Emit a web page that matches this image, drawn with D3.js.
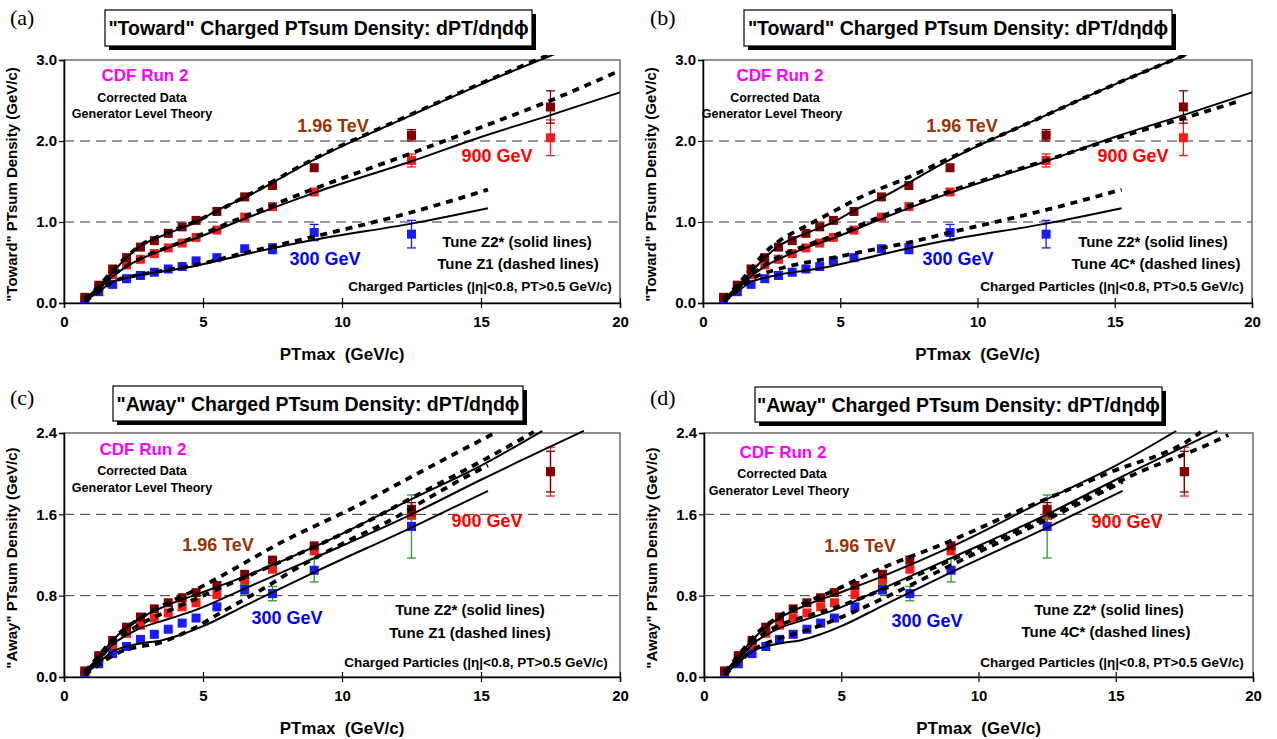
<!DOCTYPE html>
<html><head><meta charset="utf-8">
<script src="https://cdn.jsdelivr.net/npm/d3@7/dist/d3.min.js"></script>
<style>
body{margin:0;background:#fff;}
text{font-family:"Liberation Sans",Arial,sans-serif;font-weight:bold;}
</style></head>
<body><svg id="c" width="1277" height="739"></svg>
<script>
// ---------- DATA ----------
const xBins = [0.75,1.25,1.75,2.25,2.75,3.25,3.75,4.25,4.75,5.5,6.5,7.5,9,12.5,17.5];
const xBins300 = xBins.slice(0,14);

// "Toward" region data
const toward196 = [0.07,0.22,0.42,0.56,0.69,0.77,0.86,0.94,1.02,1.13,1.31,1.45,1.67,2.07,2.42];
const toward196Err = [0.01,0.01,0.01,0.01,0.01,0.01,0.01,0.01,0.02,0.02,0.02,0.03,0.03,0.07,0.20];
const toward900 = [0.05,0.19,0.35,0.47,0.54,0.61,0.68,0.74,0.81,0.90,1.06,1.19,1.37,1.76,2.04];
const toward900Err = [0.01,0.01,0.01,0.01,0.01,0.01,0.01,0.01,0.02,0.02,0.02,0.03,0.03,0.08,0.22];
const toward300 = [0.02,0.14,0.23,0.30,0.34,0.38,0.42,0.45,0.52,0.56,0.67,0.67,0.87,0.85];
const toward300Err = [0.01,0.01,0.01,0.01,0.01,0.01,0.01,0.02,0.02,0.02,0.03,0.06,0.10,0.17];

// "Away" region data
const away196 = [0.06,0.21,0.36,0.49,0.59,0.67,0.73,0.78,0.83,0.90,1.01,1.15,1.29,1.65,2.02];
const away196Err = [0.01,0.01,0.01,0.01,0.01,0.01,0.01,0.01,0.01,0.02,0.02,0.02,0.03,0.065,0.20];
const away900 = [0.05,0.18,0.31,0.43,0.51,0.58,0.63,0.69,0.73,0.81,0.94,1.06,1.24,1.59,2.02];
const away900Err = [0.01,0.01,0.01,0.01,0.01,0.01,0.01,0.01,0.01,0.02,0.02,0.02,0.03,0.07,0.24];
const away300 = [0.02,0.13,0.23,0.30,0.37,0.42,0.47,0.53,0.58,0.69,0.86,0.82,1.05,1.48];
const away300Err = [0.01,0.01,0.01,0.01,0.01,0.01,0.01,0.01,0.02,0.02,0.045,0.07,0.115,0.31];

// Theory curves [PTmax, density]
const towardZ2_196 = [[0.75,0.05],[1.25,0.2],[1.75,0.38],[2.25,0.56],[2.75,0.7],[3.75,0.86],[4.75,1.0],[5.5,1.14],[6.5,1.3],[9,1.77],[12.5,2.32],[15,2.7],[17.7,3.08]];
const towardZ2_900 = [[0.75,0.04],[1.25,0.17],[1.75,0.33],[2.25,0.45],[2.75,0.54],[3.75,0.68],[4.75,0.8],[6.5,1.04],[9,1.36],[12.5,1.75],[15,2.05],[17.5,2.32],[20,2.6]];
const towardZ2_300 = [[0.75,0.02],[1.25,0.14],[1.75,0.26],[2.25,0.31],[2.75,0.35],[3.75,0.4],[4.75,0.46],[6.5,0.6],[9,0.78],[12.5,0.98],[15.25,1.17]];
const towardZ1_196 = [[0.75,0.05],[1.25,0.21],[1.75,0.4],[2.25,0.57],[2.75,0.71],[3.75,0.87],[4.75,1.01],[6.5,1.31],[9,1.78],[12.5,2.33],[15,2.71],[17.7,3.1]];
const towardZ1_900 = [[0.75,0.04],[1.25,0.18],[1.75,0.34],[2.75,0.55],[3.75,0.69],[4.75,0.82],[6.5,1.07],[9,1.41],[12.5,1.85],[15,2.17],[17.5,2.5],[20,2.87]];
const towardZ1_300 = [[0.75,0.02],[1.25,0.14],[1.75,0.26],[2.75,0.35],[3.75,0.41],[4.75,0.47],[6.5,0.62],[9,0.82],[12.5,1.12],[15.25,1.4]];
const toward4C_196 = [[0.75,0.05],[1.25,0.22],[1.75,0.42],[2.25,0.62],[2.75,0.76],[3.75,0.95],[4.75,1.13],[5.7,1.3],[7.4,1.54],[9,1.79],[12.5,2.32],[15,2.7],[17.7,3.08]];
const toward4C_900 = [[0.75,0.04],[1.25,0.18],[1.75,0.34],[2.75,0.57],[3.75,0.71],[4.75,0.83],[6.5,1.07],[9,1.38],[12.5,1.76],[15,2.03],[17.5,2.28],[19.6,2.5]];
const toward4C_300 = [[0.75,0.02],[1.25,0.15],[1.75,0.29],[2.75,0.42],[3.75,0.5],[4.75,0.56],[5.6,0.62],[7.4,0.74],[9,0.87],[12.5,1.15],[15.25,1.4]];

const awayZ2_196 = [[0.75,0.05],[1.25,0.2],[1.75,0.36],[2.25,0.49],[2.75,0.58],[3.75,0.71],[4.75,0.81],[6.5,0.99],[9,1.28],[12.5,1.75],[15,2.08],[17.2,2.42]];
const awayZ2_900 = [[0.75,0.04],[1.25,0.17],[1.75,0.32],[2.25,0.41],[2.75,0.48],[3.75,0.57],[4.75,0.66],[6.5,0.87],[9,1.17],[12.5,1.6],[15,1.94],[18.7,2.42]];
const awayZ2_300 = [[0.75,0.02],[1.25,0.14],[1.75,0.25],[2.25,0.3],[2.75,0.33],[3.5,0.36],[4.25,0.42],[5,0.5],[6.5,0.7],[9,1.03],[12.5,1.47],[15.25,1.83]];
const awayZ1_196 = [[0.75,0.05],[1.25,0.21],[1.75,0.37],[2.75,0.58],[3.75,0.73],[4.75,0.86],[5.7,1.0],[8,1.35],[10.3,1.65],[12.5,1.97],[15,2.33],[15.5,2.4]];
const awayZ1_900 = [[0.75,0.04],[1.25,0.17],[1.75,0.33],[2.75,0.52],[3.75,0.65],[4.75,0.77],[6.5,0.98],[9,1.28],[10.7,1.5],[12.5,1.76],[15.4,2.18],[16.9,2.41]];
const awayZ1_300 = [[0.75,0.02],[1.25,0.12],[1.75,0.21],[2.25,0.27],[2.75,0.3],[3.5,0.34],[4.05,0.4],[4.75,0.49],[5.5,0.61],[7.05,0.85],[8.5,1.09],[10,1.31],[11.66,1.53],[13.05,1.75],[14.6,1.99],[15.25,2.08]];
const away4C_196 = [[0.75,0.05],[1.25,0.21],[1.75,0.38],[2.75,0.6],[3.75,0.74],[4.75,0.85],[5.8,0.99],[9.08,1.35],[11.5,1.64],[14.67,2.0],[17.95,2.38],[18.1,2.41]];
const away4C_900 = [[0.75,0.04],[1.25,0.18],[1.75,0.34],[2.25,0.44],[2.75,0.51],[3.75,0.6],[4.75,0.68],[6.5,0.86],[9,1.15],[12.5,1.58],[15.9,2.02],[18.3,2.28],[19.1,2.38]];
const away4C_300 = [[0.75,0.02],[1.25,0.14],[1.75,0.26],[2.25,0.33],[2.75,0.38],[3.75,0.46],[4.75,0.56],[6.5,0.77],[9,1.1],[12.5,1.55],[15.25,1.92]];

const xTicks = [0,5,10,15,20];
const towardTicks = [0,1,2,3];
const awayTicks = [0,0.8,1.6,2.4];

// ---------- DRAW ----------
const svg = d3.select('#c');
const C196='#800000', C900='#ff1a1a', C300='#1a1aff', CGREEN='#2a9a2a';

const panels = [
 {letter:'(a)', lx:10, ly:25, L:64,R:620,T:60,B:303, yMax:3, ticks:towardTicks, grid:[1,2],
  title:'"Toward" Charged PTsum Density: dPT/dηdϕ', box:[105,10,427,36], ylab:'"Toward" PTsum Density (GeV/c)',
  d196:toward196,e196:toward196Err,d900:toward900,e900:toward900Err,d300:toward300,e300:toward300Err,e300c:C300,
  solid:[towardZ2_196,towardZ2_900,towardZ2_300], dashed:[towardZ1_196,towardZ1_900,towardZ1_300], tune:'Tune Z1 (dashed lines)',
  txt:{cdf:[145,81],corr:[142,102],gen:[142,118],t196:[333,132],t900:[497,162],t300:[325,265],tz2:[517,247],tz1:[518,269],ch:[480,291]}},
 {letter:'(b)', lx:650, ly:25, L:703,R:1252,T:60,B:303, yMax:3, ticks:towardTicks, grid:[1,2],
  title:'"Toward" Charged PTsum Density: dPT/dηdϕ', box:[744,10,428,36], ylab:'"Toward" PTsum Density (GeV/c)',
  d196:toward196,e196:toward196Err,d900:toward900,e900:toward900Err,d300:toward300,e300:toward300Err,e300c:C300,
  solid:[towardZ2_196,towardZ2_900,towardZ2_300], dashed:[toward4C_196,toward4C_900,toward4C_300], tune:'Tune 4C* (dashed lines)',
  txt:{cdf:[780,81],corr:[775,102],gen:[772,118],t196:[962,132],t900:[1133,162],t300:[958,265],tz2:[1153,247],tz1:[1156,269],ch:[1112,291]}},
 {letter:'(c)', lx:10, ly:405, L:64,R:620,T:433,B:677, yMax:2.4, ticks:awayTicks, grid:[0.8,1.6],
  title:'"Away" Charged PTsum Density: dPT/dηdϕ', box:[113,386,410,35], ylab:'"Away" PTsum Density (GeV/c)',
  d196:away196,e196:away196Err,d900:away900,e900:away900Err,d300:away300,e300:away300Err,e300c:CGREEN,
  solid:[awayZ2_196,awayZ2_900,awayZ2_300], dashed:[awayZ1_196,awayZ1_900,awayZ1_300], tune:'Tune Z1 (dashed lines)',
  txt:{cdf:[143,455],corr:[142,475],gen:[142,492],t196:[218,551],t900:[487,527],t300:[287,624],tz2:[470,615],tz1:[470,638],ch:[476,667]}},
 {letter:'(d)', lx:650, ly:405, L:704,R:1253,T:433,B:677, yMax:2.4, ticks:awayTicks, grid:[0.8,1.6],
  title:'"Away" Charged PTsum Density: dPT/dηdϕ', box:[755,387,407,35], ylab:'"Away" PTsum Density (GeV/c)',
  d196:away196,e196:away196Err,d900:away900,e900:away900Err,d300:away300,e300:away300Err,e300c:CGREEN,
  solid:[awayZ2_196,awayZ2_900,awayZ2_300], dashed:[away4C_196,away4C_900,away4C_300], tune:'Tune 4C* (dashed lines)',
  txt:{cdf:[783,458],corr:[782,478],gen:[779,495],t196:[860,552],t900:[1127,528],t300:[927,627],tz2:[1109,615],tz1:[1106,637],ch:[1112,667]}}
];

panels.forEach((p,pi)=>{
  const g = svg.append('g');
  const x = d3.scaleLinear().domain([0,20]).range([p.L,p.R]);
  const y = d3.scaleLinear().domain([0,p.yMax]).range([p.B,p.T]);

  // panel letter
  g.append('text').attr('x',p.lx).attr('y',p.ly).text(p.letter)
   .style('font-family','"Liberation Serif","Times New Roman",serif').style('font-weight','normal').style('font-size','22px');

  // title box with shadow
  const [bx,by,bw,bh]=p.box;
  g.append('rect').attr('x',bx+4).attr('y',by+4).attr('width',bw).attr('height',bh).attr('fill','#000');
  g.append('rect').attr('x',bx).attr('y',by).attr('width',bw).attr('height',bh).attr('fill','#fff').attr('stroke','#000').attr('stroke-width',1.2);
  g.append('text').attr('x',bx+bw/2).attr('y',by+bh/2+7).attr('text-anchor','middle').style('font-size','19.5px').text(p.title);

  // grid
  p.grid.forEach(v=>{
    g.append('line').attr('x1',p.L).attr('x2',p.R).attr('y1',y(v)).attr('y2',y(v))
     .attr('stroke','#333').attr('stroke-width',1).attr('stroke-dasharray','10,6');
  });

  // frame
  g.append('rect').attr('x',p.L).attr('y',p.T).attr('width',p.R-p.L).attr('height',p.B-p.T)
   .attr('fill','none').attr('stroke','#555').attr('stroke-width',1.3);

  // axes
  const xa = g.append('g').attr('transform',`translate(0,${p.B})`)
    .call(d3.axisBottom(x).tickValues(xTicks).tickSize(5).tickFormat(d3.format('d')));
  xa.select('.domain').attr('stroke','#000').attr('stroke-width',1.5);
  xa.selectAll('.tick line').attr('y1',-5).attr('y2',5).attr('stroke','#000').attr('stroke-width',1.2);
  xa.selectAll('.tick text').attr('y',13).style('font-size','15px').style('font-family','"Liberation Sans",Arial,sans-serif').style('font-weight','bold');

  const ya = g.append('g').attr('transform',`translate(${p.L},0)`)
    .call(d3.axisLeft(y).tickValues(p.ticks).tickSize(5).tickFormat(d3.format('.1f')));
  ya.select('.domain').attr('stroke','#000').attr('stroke-width',1.5);
  ya.selectAll('.tick line').attr('x1',-5).attr('x2',0).attr('stroke','#000').attr('stroke-width',1.2);
  ya.selectAll('.tick text').attr('x',-7).style('font-size','15px').style('font-family','"Liberation Sans",Arial,sans-serif').style('font-weight','bold');

  // axis titles
  g.append('text').attr('x',(p.L+p.R)/2).attr('y',p.B+57).attr('text-anchor','middle').style('font-size','17px').text('PTmax\u00A0\u00A0(GeV/c)');
  g.append('text').attr('transform',`translate(${p.L-47},${(p.T+p.B)/2+3}) rotate(-90)`).attr('text-anchor','middle').style('font-size','15px').text(p.ylab);

  // clip
  const cid='clip'+pi;
  svg.append('clipPath').attr('id',cid).append('rect').attr('x',p.L).attr('y',p.T-5).attr('width',p.R-p.L+2).attr('height',p.B-p.T+5);
  const plot = g.append('g').attr('clip-path',`url(#${cid})`);

  // data markers with error bars
  const series=[
    {xs:xBins,ys:p.d900,es:p.e900,c:C900,ec:C900},
    {xs:xBins300,ys:p.d300,es:p.e300,c:C300,ec:p.e300c},
    {xs:xBins,ys:p.d196,es:p.e196,c:C196,ec:C196}
  ];
  const ms=9;
  series.forEach(s=>{
    s.xs.forEach((xv,i)=>{
      const cx=x(xv), v=s.ys[i], e=s.es[i];
      if(y(v-e)-y(v+e)>ms){
        plot.append('line').attr('x1',cx).attr('x2',cx).attr('y1',y(v-e)).attr('y2',y(v+e)).attr('stroke',s.ec).attr('stroke-width',1.3);
        [v-e,v+e].forEach(t=>plot.append('line').attr('x1',cx-4.5).attr('x2',cx+4.5).attr('y1',y(t)).attr('y2',y(t)).attr('stroke',s.ec).attr('stroke-width',1.3));
      }
    });
    plot.selectAll(null).data(s.xs.map((xv,i)=>[xv,s.ys[i]])).enter().append('rect')
      .attr('x',d=>x(d[0])-ms/2).attr('y',d=>y(d[1])-ms/2).attr('width',ms).attr('height',ms).attr('fill',s.c);
  });

  // theory lines
  const line = d3.line().x(d=>x(d[0])).y(d=>y(d[1])).curve(d3.curveMonotoneX);
  p.dashed.forEach(c=>plot.append('path').attr('d',line(c)).attr('fill','none').attr('stroke','#000').attr('stroke-width',3.8).attr('stroke-dasharray','7,6'));
  p.solid.forEach(c=>plot.append('path').attr('d',line(c)).attr('fill','none').attr('stroke','#000').attr('stroke-width',2));

  // annotations
  const t=p.txt;
  const ann=(pos,str,size,col)=>g.append('text').attr('x',pos[0]).attr('y',pos[1]).attr('text-anchor','middle').style('font-size',size+'px').attr('fill',col).text(str);
  ann(t.cdf,'CDF Run 2',17,'#ff00ff');
  ann(t.corr,'Corrected Data',12.5,'#000');
  ann(t.gen,'Generator Level Theory',12.5,'#000');
  ann(t.t196,'1.96 TeV',18,'#993300');
  ann(t.t900,'900 GeV',18,'#ff0000');
  ann(t.t300,'300 GeV',18,'#0000ff');
  ann(t.tz2,'Tune Z2* (solid lines)',15,'#000');
  ann(t.tz1,p.tune,15,'#000');
  ann(t.ch,'Charged Particles (|η|<0.8, PT>0.5 GeV/c)',13.5,'#000');
});
</script></body></html>
